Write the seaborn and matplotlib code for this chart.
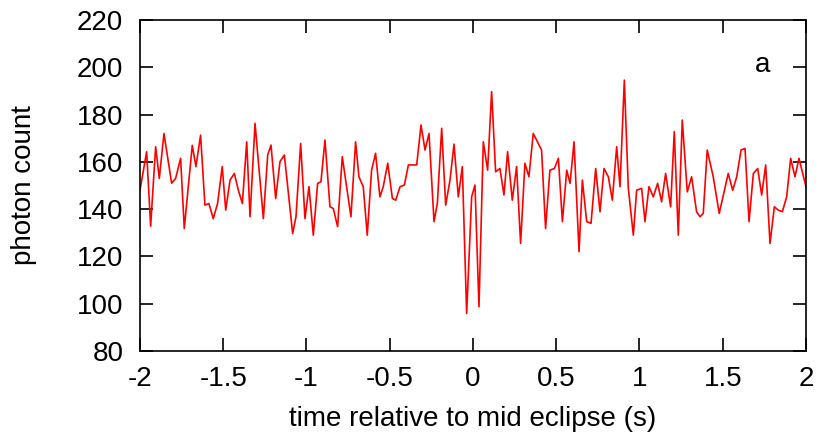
import matplotlib
matplotlib.use('Agg')
import matplotlib.pyplot as plt
import seaborn as sns

# light curve around mid eclipse
time_s = [
    -2.000, -1.960, -1.936, -1.906, -1.884, -1.856, -1.810, -1.786, -1.756, -1.734,
    -1.686, -1.664, -1.636, -1.610, -1.586, -1.560, -1.534, -1.506, -1.485, -1.459,
    -1.433, -1.409, -1.385, -1.359, -1.339, -1.309, -1.259, -1.233, -1.213, -1.185,
    -1.159, -1.133, -1.083, -1.063, -1.035, -1.009, -0.985, -0.959, -0.933, -0.913,
    -0.889, -0.859, -0.839, -0.813, -0.785, -0.733, -0.705, -0.685, -0.659, -0.635,
    -0.609, -0.585, -0.559, -0.539, -0.512, -0.484, -0.464, -0.438, -0.412, -0.388,
    -0.338, -0.312, -0.288, -0.264, -0.234, -0.214, -0.188, -0.164, -0.138, -0.114,
    -0.088, -0.064, -0.038, -0.008, 0.012, 0.036, 0.062, 0.088, 0.112, 0.136,
    0.162, 0.186, 0.208, 0.236, 0.262, 0.286, 0.312, 0.336, 0.362, 0.412,
    0.436, 0.462, 0.489, 0.513, 0.537, 0.563, 0.583, 0.607, 0.637, 0.657,
    0.683, 0.709, 0.737, 0.763, 0.787, 0.813, 0.837, 0.863, 0.883, 0.909,
    0.933, 0.963, 0.983, 1.013, 1.033, 1.057, 1.083, 1.109, 1.133, 1.157,
    1.187, 1.209, 1.233, 1.257, 1.287, 1.313, 1.343, 1.363, 1.383, 1.407,
    1.443, 1.479, 1.533, 1.560, 1.584, 1.610, 1.634, 1.658, 1.684, 1.710,
    1.734, 1.758, 1.784, 1.810, 1.834, 1.858, 1.884, 1.908, 1.934, 1.958,
    2.000,
]
photon_count = [
    148.0, 164.3, 132.8, 166.4, 153.0, 172.0, 151.0, 153.0, 161.5, 131.8,
    167.0, 158.0, 171.3, 141.7, 142.4, 136.0, 142.4, 158.0, 139.6, 152.3,
    155.1, 148.0, 142.4, 168.5, 136.8, 176.3, 136.0, 162.9, 167.1, 144.5,
    160.1, 162.9, 129.7, 136.8, 167.8, 136.0, 149.5, 129.0, 150.9, 151.6,
    169.2, 141.0, 140.3, 132.6, 162.2, 136.8, 168.5, 153.7, 149.5, 129.0,
    156.5, 163.6, 145.2, 149.5, 159.4, 144.5, 143.8, 149.5, 150.2, 158.7,
    158.7, 175.6, 165.0, 172.0, 134.7, 142.4, 174.2, 141.7, 152.3, 167.5,
    145.2, 158.0, 95.9, 145.2, 150.2, 98.7, 168.5, 156.5, 189.7, 155.8,
    157.2, 146.0, 164.3, 143.8, 158.0, 125.5, 159.4, 153.7, 172.0, 165.0,
    131.8, 156.5, 157.2, 161.5, 134.7, 156.5, 150.9, 168.5, 122.0, 152.3,
    134.7, 134.0, 157.2, 138.9, 157.2, 153.7, 143.8, 166.4, 149.5, 194.6,
    148.8, 129.0, 148.0, 148.8, 134.7, 149.5, 145.2, 150.9, 143.1, 155.1,
    141.0, 172.8, 129.0, 177.7, 147.3, 153.7, 138.9, 136.8, 138.2, 165.0,
    153.7, 138.2, 155.1, 148.0, 153.7, 165.0, 165.7, 134.7, 155.1, 157.2,
    146.0, 158.7, 125.5, 141.0, 139.6, 138.9, 145.2, 161.5, 153.7, 161.5,
    149.5,
]
x_ticks = [-2, -1.5, -1, -0.5, 0, 0.5, 1, 1.5, 2]
x_tick_labels = ['-2', '-1.5', '-1', '-0.5', '0', '0.5', '1', '1.5', '2']
y_ticks = [80, 100, 120, 140, 160, 180, 200, 220]

sns.set_style('ticks')
plt.rcParams['font.family'] = ['Liberation Sans', 'DejaVu Sans']

fig = plt.figure(figsize=(8.21, 4.38), dpi=100)
ax = fig.add_axes([0.1705, 0.1986, 0.8112, 0.7557])

sns.lineplot(x=time_s, y=photon_count, color='#ff0000', linewidth=1.2,
             estimator=None, sort=False, ax=ax)

ax.set_xlim(-2, 2)
ax.set_ylim(80, 220)
ax.set_xticks(x_ticks)
ax.set_xticklabels(x_tick_labels)
ax.set_yticks(y_ticks)

# gnuplot-like frame: inward ticks on every side
for side in ['top', 'right', 'bottom', 'left']:
    ax.spines[side].set_visible(True)
    ax.spines[side].set_linewidth(1.2)
    ax.spines[side].set_color('black')
ax.tick_params(direction='in', length=9.5, width=1.2, top=True, right=True,
               labelsize=20, colors='black', labelcolor='black')
ax.tick_params(axis='x', pad=11)
ax.tick_params(axis='y', pad=12)

ax.set_xlabel('time relative to mid eclipse (s)', fontsize=20, color='black', labelpad=10)
ax.set_ylabel('photon count', fontsize=20, color='black', labelpad=29)

ax.text(0.935, 0.844, 'a', transform=ax.transAxes, fontsize=20, color='black',
        ha='center', va='baseline')

fig.savefig('out.png', dpi=100)
